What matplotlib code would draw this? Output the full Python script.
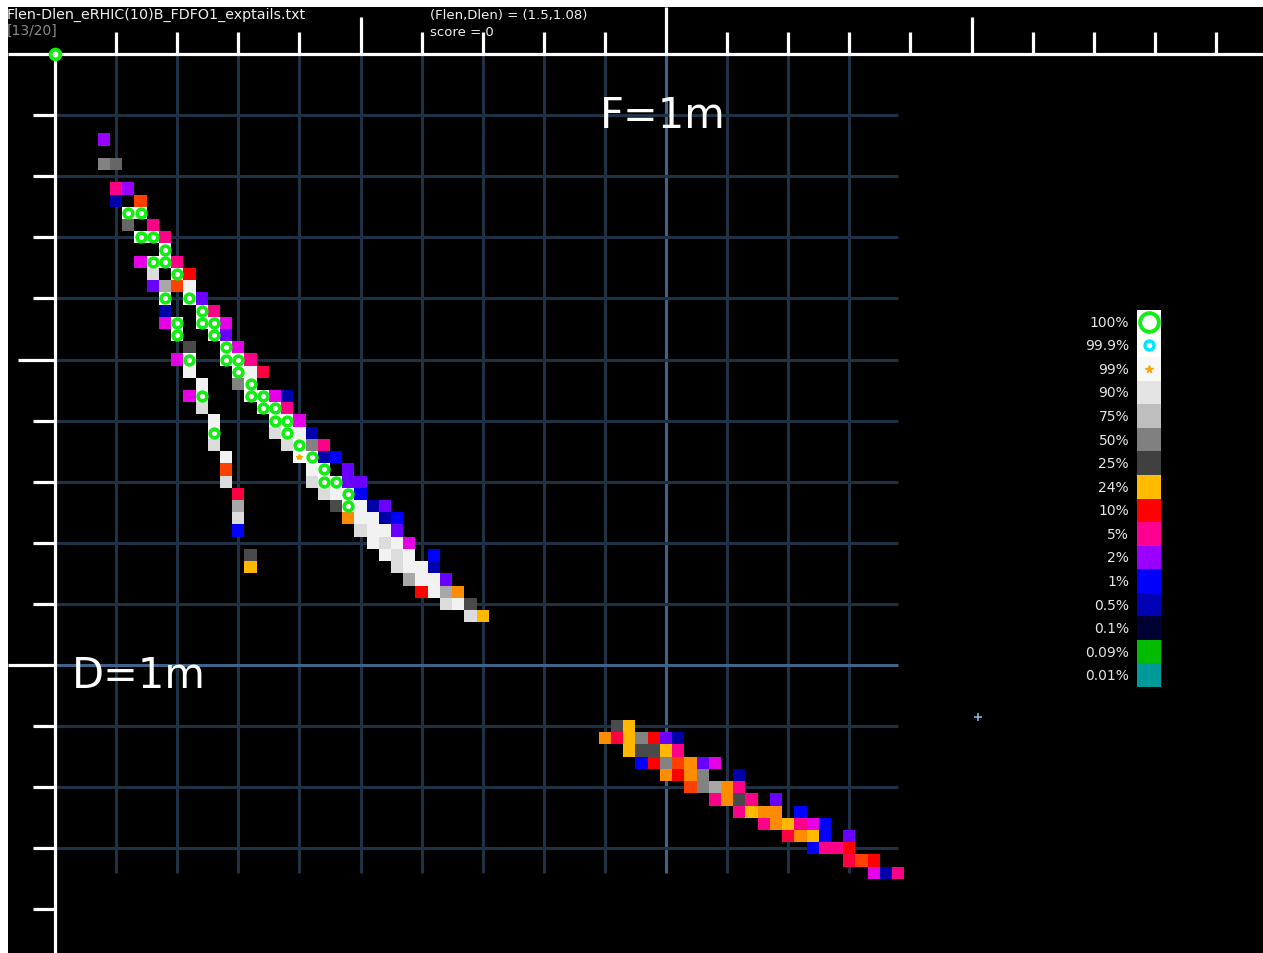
import matplotlib
matplotlib.use("Agg")
import matplotlib.pyplot as plt
from matplotlib.patches import Rectangle
from matplotlib.collections import PatchCollection

# ---------------- data ----------------
STEP = 0.02  # metres per cell (Flen along x, Dlen along y)

# (Dlen index, first Flen index, cell codes; '.' = empty)
upper_band = [
    (7, 4, "p"),
    (9, 4, "gG"),
    (11, 5, "kp"),
    (12, 5, "n.e"),
    (13, 6, "OO"),
    (14, 6, "G.k"),
    (15, 7, "OOk"),
    (16, 9, "O"),
    (17, 7, "mOOk"),
    (18, 8, "l.Or"),
    (19, 8, "vsew"),
    (20, 9, "O.Ov"),
    (21, 9, "n..Ok"),
    (22, 9, "mO.OOm"),
    (23, 10, "O..Ov"),
    (24, 11, "d..Om"),
    (25, 10, "mO..OOk"),
    (26, 11, "w...Owc"),
    (27, 12, "w..gO"),
    (28, 11, "mO...OOmn"),
    (29, 12, "l....OOk"),
    (30, 13, "w....OOm"),
    (31, 13, "O....lOwn"),
    (32, 13, "l.....lOgk"),
    (33, 14, "w.....AOnb"),
    (34, 14, "e......wO.v"),
    (35, 14, "l......lOOvv"),
    (36, 15, "c......lwOb"),
    (37, 15, "s.......dOwnv"),
    (38, 15, "l........owwnb"),
    (39, 15, "b.........lwwv"),
    (40, 26, "wlwm"),
    (41, 16, "d..........wlw.b"),
    (42, 16, "y...........lwwn"),
    (43, 29, "swwv"),
    (44, 30, "rwso"),
    (45, 32, "lwd"),
    (46, 34, "ly"),
]

lower_band = [
    (55, 46, "dy"),
    (56, 45, "ocygrvn"),
    (57, 47, "yddyk"),
    (58, 48, "brgeovm"),
    (59, 50, "orog..n"),
    (60, 52, "egsok"),
    (61, 54, "kodk.v"),
    (62, 56, "kyoo.b"),
    (63, 58, "koykmb"),
    (64, 60, "coyb.v"),
    (65, 62, "bkkr"),
    (66, 65, "cer"),
    (67, 67, "mnk"),
]

code_colors = {
    "O": "#FFFFFF", "A": "#FFFFFF", "w": "#F2F2F2", "l": "#DCDCDC",
    "s": "#A8A8A8", "g": "#828282", "G": "#666666", "d": "#4A4A4A",
    "y": "#FFB800", "o": "#FF8C00", "e": "#FF4000", "r": "#FF0000",
    "c": "#FF0040", "k": "#FF0088", "m": "#E600E6", "p": "#9900FF",
    "v": "#6A00FF", "b": "#0000FF", "n": "#0000AA",
}

legend_labels = ["100%", "99.9%", "99%", "90%", "75%", "50%", "25%", "24%",
                 "10%", "5%", "2%", "1%", "0.5%", "0.1%", "0.09%", "0.01%"]
legend_colors = ["#FFFFFF", "#FFFFFF", "#F8F8F8", "#E4E4E4", "#BEBEBE",
                 "#808080", "#404040", "#FFBB00", "#FF0000", "#FF0090",
                 "#9900FF", "#0000FF", "#0000B4", "#000033", "#00BB00",
                 "#009999"]

file_title = "Flen-Dlen_eRHIC(10)B_FDFO1_exptails.txt"
page_label = "[13/20]"
current_point = (1.5, 1.08)
score = 0

# ---------------- figure ----------------
W, H = 1263, 954
PPM = 611.0  # pixels per metre
fig = plt.figure(figsize=(W / 100, H / 100), dpi=100, facecolor="white")
ax = fig.add_axes([8 / W, 0, (W - 8) / W, (H - 8) / H])
ax.set_facecolor("black")
ax.set_xlim(-47 / PPM, (W - 55) / PPM)
ax.set_ylim((H - 55) / PPM, -47 / PPM)
ax.set_xticks([]); ax.set_yticks([])
for s in ax.spines.values():
    s.set_visible(False)

# collect cells
F, D, C = [], [], []
for row, c0, codes in upper_band + lower_band:
    for k, ch in enumerate(codes):
        if ch == ".":
            continue
        F.append((c0 + k) * STEP)
        D.append(row * STEP)
        C.append(ch)

maxF = max(F)
maxD = max(D)

# grid
grid_c = "#1F3145"
grid_hi = "#3F6389"
lw_grid = 2.2
for i in range(1, int(maxF / 0.1 + 1e-9) + 1):
    x = i * 0.1
    ax.plot([x, x], [0, maxD], color=grid_hi if i % 10 == 0 else grid_c,
            lw=lw_grid, zorder=1, solid_capstyle="butt")
for j in range(1, int(maxD / 0.1 + 1e-9) + 1):
    y = j * 0.1
    ax.plot([0, maxF], [y, y], color=grid_hi if j % 10 == 0 else grid_c,
            lw=lw_grid, zorder=1, solid_capstyle="butt")

# cells
patches = [Rectangle((f - STEP / 2, d - STEP / 2), STEP, STEP) for f, d in zip(F, D)]
pc = PatchCollection(patches, facecolors=[code_colors[c] for c in C],
                     edgecolors="none", zorder=3)
ax.add_collection(pc)

ringF = [f for f, c in zip(F, C) if c == "O"]
ringD = [d for d, c in zip(D, C) if c == "O"]
ax.plot(ringF, ringD, ls="none", marker="o", ms=6.3, mew=2.6, mfc="none",
        mec="#12EE12", zorder=4)
astF = [f for f, c in zip(F, C) if c == "A"]
astD = [d for d, c in zip(D, C) if c == "A"]
ax.plot(astF, astD, ls="none", marker="*", ms=4, color="#FFA500", zorder=4)

# axes (white) with ticks
xmax = (W - 55) / PPM
ymax = (H - 55) / PPM
ax.plot([-47 / PPM, xmax], [0, 0], color="white", lw=2.3, zorder=6,
        solid_capstyle="butt")
ax.plot([0, 0], [0, ymax], color="white", lw=2.3, zorder=6,
        solid_capstyle="butt")
for i in range(1, 20):
    x = i * 0.1
    if i % 10 == 0:
        top = -47 / PPM
    elif i % 5 == 0:
        top = -37 / PPM
    else:
        top = -22 / PPM
    ax.plot([x, x], [0, top], color="white", lw=2.3, zorder=6,
            solid_capstyle="butt")
for j in range(1, 15):
    y = j * 0.1
    if j % 10 == 0:
        left = -47 / PPM
    elif j % 5 == 0:
        left = -37 / PPM
    else:
        left = -22 / PPM
    ax.plot([0, left], [y, y], color="white", lw=2.3, zorder=6,
            solid_capstyle="butt")

# origin marker and current point
ax.plot([0], [0], ls="none", marker="o", ms=7, mew=2.8, mfc="white",
        mec="#12EE12", zorder=7, clip_on=False)
ax.plot([current_point[0] + STEP / 2], [current_point[1] + STEP / 4],
        ls="none", marker="+", ms=6, mew=1.2, color="#7FB2E5", zorder=7)

# labels
ax.text(1.0 - 3 / PPM, 0.1, "F=1m", color="white", fontsize=30,
        ha="center", va="center", zorder=8)
ax.text(17 / PPM, 1.0166, "D=1m", color="white", fontsize=30, ha="left",
        va="center", zorder=8)

def fx(px):
    return px / W

def fy(py):
    return 1 - py / H

fig.text(fx(7), fy(15), file_title, color="#F0F0F0", fontsize=10.3,
         ha="left", va="center")
fig.text(fx(7), fy(31), page_label, color="#8A8A8A", fontsize=10,
         ha="left", va="center")
fig.text(fx(430), fy(15), "(Flen,Dlen) = (%g,%g)" % current_point,
         color="#F0F0F0", fontsize=9.5, ha="left", va="center")
fig.text(fx(430), fy(32), "score = %d" % score, color="#F0F0F0",
         fontsize=9.5, ha="left", va="center")

# legend strip
lg = fig.add_axes([fx(1137), fy(688), 24 / W, 377 / H])
lg.set_xlim(0, 1)
lg.set_ylim(len(legend_labels), 0)
lg.axis("off")
for k, (lab, col) in enumerate(zip(legend_labels, legend_colors)):
    lg.add_patch(Rectangle((0, k), 1, 1, facecolor=col, edgecolor="none"))
    lg.text(-0.33, k + 0.5, lab, color="#E6E6E6", fontsize=10, ha="right",
            va="center", clip_on=False)
lg.plot([0.5], [0.5], marker="o", ms=13.5, mew=2.8, mfc="none",
        mec="#12EE12", ls="none")
lg.plot([0.5], [1.5], marker="o", ms=6.5, mew=2.4, mfc="none",
        mec="#00E5FF", ls="none")
lg.plot([0.5], [2.5], marker="*", ms=5.5, color="#FFA500", ls="none")

fig.savefig("out.png", dpi=100, facecolor="white")
